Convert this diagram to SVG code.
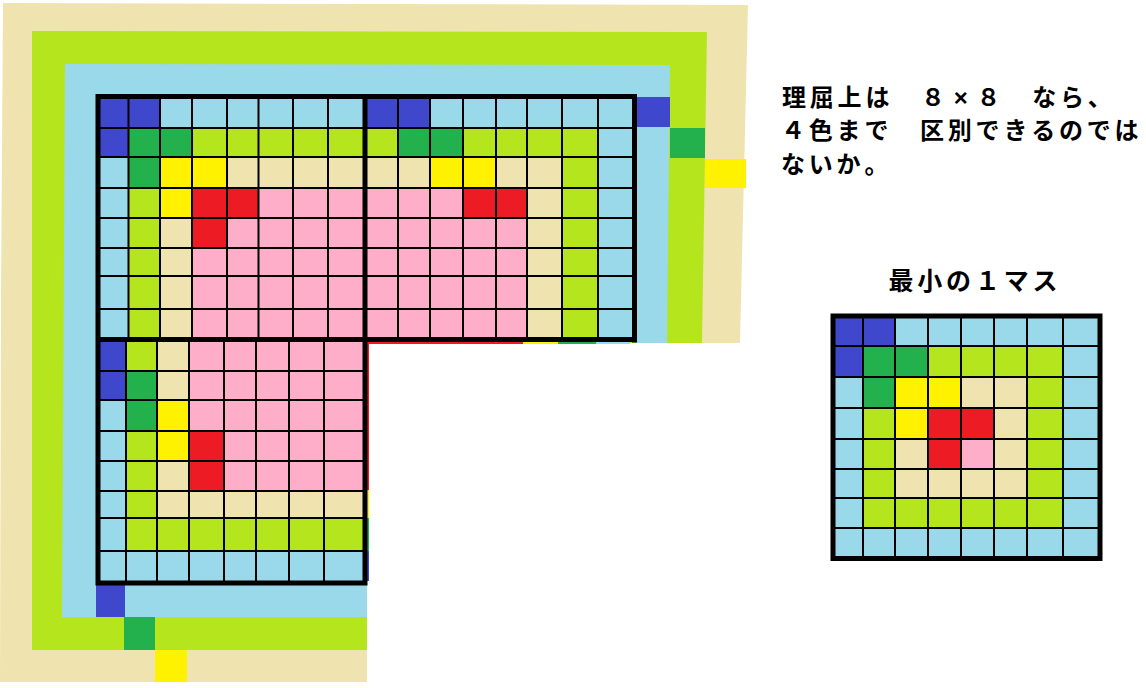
<svg xmlns="http://www.w3.org/2000/svg" width="1146" height="688" viewBox="0 0 1146 688">
<style>
.db{fill:#3F48CC}.lb{fill:#99D9EA}.dg{fill:#22B14C}.yg{fill:#B5E61D}.y{fill:#FFF200}.be{fill:#EFE4B0}.r{fill:#ED1C24}.pk{fill:#FFAEC9}
.thin{stroke:#000;stroke-width:2;fill:none}
.thick{stroke:#000;stroke-width:5;fill:none;stroke-linecap:square}
.t{font-family:"Liberation Sans","Noto Sans CJK JP",sans-serif;font-weight:bold;fill:#000}
</style>
<rect width="1146" height="688" fill="#fff"/>
<g id="bands">
<polygon class="be" points="3,3 748,5 740,343 367,343 367,682 0,682 1,300"/>
<polygon class="yg" points="32,31 707,32 702,343 367,343 367,650 32,650"/>
<polygon class="lb" points="65,64 670,65 667,343 636,343 636,340 367,340 367,617 62,617"/>
<rect class="db" x="636" y="97" width="34" height="30"/>
<rect class="dg" x="670" y="128" width="35" height="30"/>
<rect class="y" x="705" y="159" width="41" height="29"/>
<rect class="db" x="96" y="585" width="29" height="32"/>
<rect class="dg" x="124" y="617" width="31" height="33"/>
<rect class="y" x="155" y="650" width="32" height="32"/>
</g>
<g id="slivers">
<rect class="r" x="367" y="341" width="156" height="3"/>
<rect class="y" x="523" y="341" width="35" height="3"/>
<rect class="dg" x="558" y="341" width="38" height="3"/>
<rect class="lb" x="596" y="341" width="34" height="3"/>
<rect class="r" x="366" y="342" width="3" height="148"/>
<rect class="y" x="366" y="490" width="3" height="28"/>
<rect class="dg" x="366" y="518" width="3" height="33"/>
<rect class="db" x="366" y="551" width="3" height="30"/>
</g>
<g id="square-top-left">
<rect class="pk" x="97" y="97" width="268" height="243"/>
<rect class="lb" x="160" y="97" width="205" height="31"/>
<rect class="lb" x="97" y="157" width="31.5" height="183"/>
<rect class="db" x="97" y="97" width="63" height="31"/>
<rect class="db" x="97" y="128" width="31.5" height="29"/>
<rect class="dg" x="128.5" y="128" width="63.5" height="29"/>
<rect class="dg" x="128.5" y="157" width="31.5" height="31"/>
<rect class="yg" x="192" y="128" width="173" height="29"/>
<rect class="yg" x="128.5" y="188" width="31.5" height="152"/>
<rect class="y" x="160" y="157" width="67" height="31"/>
<rect class="y" x="160" y="188" width="32" height="30"/>
<rect class="be" x="227" y="157" width="138" height="31"/>
<rect class="be" x="160" y="218" width="32" height="122"/>
<rect class="r" x="192" y="188" width="66.5" height="30"/>
<rect class="r" x="192" y="218" width="35" height="30"/>
</g>
<g id="square-top-right">
<rect class="pk" x="365" y="97" width="269" height="243"/>
<rect class="db" x="365" y="97" width="65" height="31"/>
<rect class="lb" x="430" y="97" width="204" height="31"/>
<rect class="lb" x="598" y="128" width="36" height="212"/>
<rect class="yg" x="365" y="128" width="33" height="29"/>
<rect class="dg" x="398" y="128" width="65" height="29"/>
<rect class="yg" x="463" y="128" width="135" height="29"/>
<rect class="be" x="365" y="157" width="65" height="31"/>
<rect class="y" x="430" y="157" width="66" height="31"/>
<rect class="be" x="496" y="157" width="66" height="31"/>
<rect class="yg" x="562" y="157" width="36" height="183"/>
<rect class="be" x="527" y="188" width="35" height="152"/>
<rect class="r" x="463" y="188" width="64" height="30"/>
</g>
<g id="square-bottom-left">
<rect class="pk" x="97" y="339" width="268" height="244"/>
<rect class="db" x="97" y="339" width="29" height="61"/>
<rect class="lb" x="97" y="400" width="29" height="183"/>
<rect class="yg" x="126" y="339" width="31" height="32"/>
<rect class="dg" x="126" y="371" width="31" height="60"/>
<rect class="yg" x="126" y="431" width="31" height="120"/>
<rect class="be" x="157" y="339" width="32" height="61"/>
<rect class="y" x="157" y="400" width="32" height="61"/>
<rect class="be" x="157" y="461" width="32" height="58"/>
<rect class="r" x="189" y="431" width="35" height="60"/>
<rect class="be" x="157" y="491" width="208" height="27"/>
<rect class="yg" x="126" y="518" width="239" height="33"/>
<rect class="lb" x="97" y="551" width="268" height="32"/>
</g>
<g id="grid-main">
<path class="thin" d="M128.5,97V339M160,97V339M192,97V339M227,97V339M258.5,97V339M293,97V339M328,97V339M398,97V339M430,97V339M463,97V339M496,97V339M527,97V339M562,97V339M598,97V339M97,128H634M97,157H634M97,188H634M97,218H634M97,248H634M97,276H634M97,309H634"/>
<path class="thin" d="M126,339V583M157,339V583M189,339V583M224,339V583M256,339V583M289,339V583M324,339V583M97,371H365M97,400H365M97,431H365M97,461H365M97,491H365M97,518H365M97,551H365"/>
<path class="thick" d="M98,96.5H634.5V340M98,96.5V583H365M365,96.5V583M98,339.5H634.5"/>
</g>
<g id="text-note">
<text class="t" font-size="24" text-anchor="middle" x="794 821.8 849.6 877.4 905.2 933 960.8 988.6 1016.4 1044.2 1072 1099.8" y="105.5">理屈上は　８×８　なら、</text>
<text class="t" font-size="24" text-anchor="middle" x="793 820.8 848.6 876.4 904.2 932 959.8 987.6 1015.4 1043.2 1071 1098.8 1126.6" y="139">４色まで　区別できるのでは</text>
<text class="t" font-size="24" text-anchor="middle" x="793 820.8 848.6 876.4" y="173">ないか。</text>
</g>
<g id="min-cell">
<text class="t" font-size="25" text-anchor="middle" x="901 929.8 958.6 987.4 1016.2 1045" y="290">最小の１マス</text>
<rect class="lb" x="833" y="316" width="267" height="242"/>
<rect class="db" x="833" y="316" width="62" height="30"/>
<rect class="db" x="833" y="346" width="30" height="31"/>
<rect class="dg" x="863" y="346" width="65" height="31"/>
<rect class="dg" x="863" y="377" width="32" height="31"/>
<rect class="yg" x="928" y="346" width="135" height="31"/>
<rect class="yg" x="1027" y="377" width="36" height="151"/>
<rect class="yg" x="863" y="498" width="200" height="30"/>
<rect class="yg" x="863" y="408" width="32" height="120"/>
<rect class="be" x="895" y="377" width="132" height="121"/>
<rect class="y" x="895" y="377" width="66" height="31"/>
<rect class="y" x="895" y="408" width="33" height="31"/>
<rect class="r" x="928" y="408" width="66" height="31"/>
<rect class="r" x="928" y="439" width="33" height="30"/>
<rect class="pk" x="961" y="439" width="33" height="30"/>
<path class="thin" d="M863,316V558M895,316V558M928,316V558M961,316V558M994,316V558M1027,316V558M1063,316V558M833,346H1100M833,377H1100M833,408H1100M833,439H1100M833,469H1100M833,498H1100M833,528H1100"/>
<rect class="thick" x="833" y="316" width="267" height="242.5"/>
</g>
</svg>
